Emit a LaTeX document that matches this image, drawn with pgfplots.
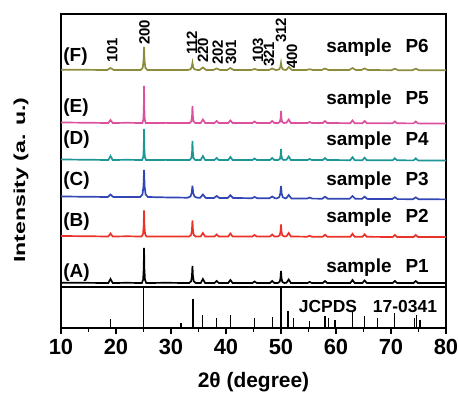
\documentclass[border=0pt]{standalone}
\usepackage{fontspec}
\setmainfont{Liberation Sans}
\usepackage{graphicx}
\usepackage{pgfplots}
\pgfplotsset{compat=1.18}
\definecolor{colF}{RGB}{140,140,60}
\definecolor{colE}{RGB}{220,80,160}
\definecolor{colD}{RGB}{30,150,150}
\definecolor{colC}{RGB}{50,70,180}
\definecolor{colB}{RGB}{235,50,40}
\newcommand{\lab}{\fontsize{19}{19}\selectfont\bfseries}
\newcommand{\hkl}{\fontsize{15}{15}\selectfont\bfseries}
\begin{document}
\begin{tikzpicture}
\path[use as bounding box] (0,0) rectangle (459bp,393bp);
\begin{axis}[
  at={(61bp,65bp)}, anchor=south west,
  width=385bp, height=314bp, scale only axis,
  xmin=10, xmax=80, ymin=0, ymax=314,
  xtick={10,20,...,80}, minor x tick num=1,
  ytick=\empty, xtick pos=left, tick align=outside,
  major tick length=6bp, minor tick length=3.5bp,
  every tick/.style={black, line width=1.3bp},
  axis line style={line width=1.6bp},
  /pgf/number format/assume math mode=true,
  xticklabel style={font=\fontsize{22}{22}\selectfont\bfseries, yshift=-2bp},
  xlabel={2θ (degree)},
  xlabel style={font=\fontsize{21}{21}\selectfont\bfseries, at={(axis description cs:0.5,-0.172)}, anchor=center},
  ylabel={\scalebox{1.45}[1]{Intensity (a. u.)}},
  ylabel style={font=\fontsize{16}{16}\selectfont\bfseries, at={(axis description cs:-0.104,0.471)}, anchor=center, rotate=0},
  clip=false,
]
% separator between sample panel and reference panel
\addplot[black, line width=1.3bp, mark=none] coordinates {(10,41) (80,41)};
% JCPDS 17-0341 reference lines
\addplot[ycomb, black, line width=1.3bp, mark=none] coordinates {
(19.0,9) (25.05,41) (31.8,5) (34.0,29) (35.7,13) (38.3,10) (40.8,13) (45.2,10)
(48.4,11) (50.0,41) (51.3,17) (52.3,10) (55.2,7) (58.0,12) (58.6,10) (59.8,8)
(63.0,17) (65.2,12) (67.6,10) (70.7,15) (74.3,10) (74.7,13) (75.3,8)};
% (A)
\addplot[black, line width=1.7bp, mark=none] coordinates {
(10,45.3) (14,45.2) (18.6,45) (19.0,49) (19.4,45) (22,45.2) (24.7,45) (24.94,48.5) (25.04,59) (25.1,80) (25.16,59) (25.26,48.5) (25.5,45) (29,45.2) (33.3,45) (33.66,46.7) (33.81,51.8) (33.9,62) (33.99,51.8) (34.14,46.7) (34.5,45) (35.4,45) (35.8,49) (36.2,45) (37.9,45) (38.3,47) (38.7,45) (40.4,45) (40.8,48) (41.2,45) (44.8,45) (45.2,46.5) (45.6,45) (48.0,45) (48.4,47) (48.8,45) (49.4,45) (49.76,46.2) (49.91,49.8) (50.0,57) (50.09,49.8) (50.24,46.2) (50.6,45) (51.0,45.3) (51.4,48.5) (51.8,45) (54.8,45) (55.2,46) (55.6,45) (57.6,45) (58.0,47) (58.4,45) (62.6,45) (63.0,48) (63.4,45) (64.8,45) (65.2,47.5) (65.6,45) (70.3,45) (70.7,47) (71.1,45) (74.1,45) (74.5,47) (74.9,45) (80,45)};
% (B)
\addplot[colB, line width=1.7bp, mark=none] coordinates {
(10,92) (14,91.8) (18.6,91.5) (19.0,94.5) (19.4,91.5) (22,91.7) (24.66,91.5) (24.92,94.1) (25.03,101.9) (25.1,117.5) (25.17,101.9) (25.28,94.1) (25.54,91.5) (29,91.6) (33.3,91.5) (33.66,93.1) (33.81,97.9) (33.9,107.5) (33.99,97.9) (34.14,93.1) (34.5,91.5) (35.4,91.5) (35.8,95) (36.2,91.5) (37.9,91.5) (38.3,93.5) (38.7,91.5) (40.4,91.5) (40.8,94.5) (41.2,91.5) (44.8,91.5) (45.2,93) (45.6,91.5) (48.0,91.5) (48.4,93.5) (48.8,91.5) (49.4,91.5) (49.76,92.7) (49.91,96.3) (50.0,103.5) (50.09,96.3) (50.24,92.7) (50.6,91.5) (51.0,91.8) (51.4,95) (51.8,91.5) (54.8,91.3) (55.2,92.3) (55.6,91.3) (57.6,91.3) (58.0,93.3) (58.4,91.3) (62.6,91.2) (63.0,94.2) (63.4,91.2) (64.8,91.2) (65.2,93.7) (65.6,91.2) (70.3,91) (70.7,93) (71.1,91) (74.1,91) (74.5,93) (74.9,91) (80,91)};
% (C)
\addplot[colC, line width=1.7bp, mark=none] coordinates {
(10,131.5) (14,131.3) (18.5,131) (19.0,133.5) (19.5,131) (22,131) (24.4,131) (24.82,133.7) (25.0,141.8) (25.1,158) (25.2,141.8) (25.38,133.7) (25.8,131) (29,130.6) (33.0,130.3) (33.54,131.5) (33.77,135.1) (33.9,142.3) (34.03,135.1) (34.26,131.5) (34.8,130.2) (35.3,130.2) (35.8,133.5) (36.3,130.1) (37.8,130) (38.3,132) (38.8,130) (40.3,130) (40.8,132.8) (41.3,130) (44.7,129.8) (45.2,131) (45.7,129.8) (47.9,129.7) (48.4,131.5) (48.9,129.7) (49.2,129.6) (49.68,130.85) (49.88,134.6) (50.0,142.1) (50.12,134.6) (50.32,130.85) (50.8,129.6) (51.0,130) (51.4,133) (51.9,129.5) (54.7,129.4) (55.2,130.4) (55.7,129.4) (57.5,129.3) (58.0,131.3) (58.5,129.3) (62.5,129.2) (63.0,132) (63.5,129.2) (64.7,129.1) (65.2,131.3) (65.7,129.1) (70.2,128.9) (70.7,130.8) (71.2,128.9) (74.0,128.8) (74.5,130.6) (75.0,128.8) (80,128.6)};
% (D)
\addplot[colD, line width=1.7bp, mark=none] coordinates {
(10,168.5) (14,168.3) (18.6,168) (19.0,172) (19.4,168) (22,168.2) (24.74,168) (24.96,171.1) (25.05,180.4) (25.1,199) (25.15,180.4) (25.24,171.1) (25.46,168) (29,168.1) (33.4,168) (33.7,169.9) (33.83,175.6) (33.9,187) (33.98,175.6) (34.1,169.9) (34.4,168) (35.4,168) (35.8,172) (36.2,168) (37.9,168) (38.3,170) (38.7,168) (40.4,168) (40.8,171) (41.2,168) (44.8,168) (45.2,169.5) (45.6,168) (48.0,168) (48.4,170) (48.8,168) (49.5,168) (49.8,169.1) (49.93,172.4) (50.0,179) (50.08,172.4) (50.2,169.1) (50.5,168) (51.0,168.3) (51.4,171.5) (51.8,168) (54.8,168) (55.2,169) (55.6,168) (57.6,168) (58.0,170) (58.4,168) (62.6,167.8) (63.0,170.8) (63.4,167.8) (64.8,167.8) (65.2,170.3) (65.6,167.8) (70.3,167.7) (70.7,169.7) (71.1,167.7) (74.1,167.6) (74.5,169.6) (74.9,167.6) (80,167.5)};
% (E)
\addplot[colE, line width=1.7bp, mark=none] coordinates {
(10,205.5) (14,205.3) (18.6,205) (19.0,208) (19.4,205) (22,205.2) (24.8,205) (24.98,208.7) (25.06,219.8) (25.1,242) (25.15,219.8) (25.22,208.7) (25.4,205) (29,205.1) (33.4,205) (33.7,206.7) (33.83,211.8) (33.9,222) (33.98,211.8) (34.1,206.7) (34.4,205) (35.4,205) (35.8,208.5) (36.2,205) (37.9,205) (38.3,207) (38.7,205) (40.4,205) (40.8,207.5) (41.2,205) (44.8,205) (45.2,206.5) (45.6,205) (48.0,205) (48.4,207) (48.8,205) (49.5,205) (49.8,206.2) (49.93,209.8) (50.0,217) (50.08,209.8) (50.2,206.2) (50.5,205) (51.0,205.3) (51.4,208.5) (51.8,205) (54.8,205) (55.2,206) (55.6,205) (57.6,205) (58.0,207) (58.4,205) (62.6,204.8) (63.0,207.5) (63.4,204.8) (64.8,204.8) (65.2,207) (65.6,204.8) (70.3,204.7) (70.7,206.5) (71.1,204.7) (74.1,204.6) (74.5,206.5) (74.9,204.6) (80,204.5)};
% (F)
\addplot[colF, line width=1.7bp, mark=none] coordinates {
(10,258.3) (14,258.2) (18.4,258) (19.0,260) (19.6,258) (22,258) (24.5,258) (24.86,260.3) (25.01,267.2) (25.1,281) (25.19,267.2) (25.34,260.3) (25.7,258) (29,258) (33.0,258) (33.54,258.7) (33.77,260.8) (33.9,265) (34.03,260.8) (34.26,258.7) (34.8,258) (35.2,258) (35.8,260.5) (36.4,258) (37.7,258) (38.3,259.5) (38.9,258) (40.2,258) (40.8,260) (41.4,258) (44.6,258) (45.2,259) (45.8,258) (47.8,258) (48.4,259.5) (49.0,258) (49.2,258) (49.68,258.7) (49.88,260.8) (50.0,265) (50.12,260.8) (50.32,258.7) (50.8,258) (51.0,258.3) (51.4,261) (52.0,258) (54.6,258) (55.2,258.8) (55.8,258) (57.4,258) (58.0,259.5) (58.6,258) (62.4,258) (63.0,260) (63.6,258) (64.6,258) (65.2,259.5) (65.8,258) (70.1,257.8) (70.7,259.3) (71.3,257.8) (73.9,257.8) (74.5,259.3) (75.1,257.8) (80,257.7)};
% sample letters
\node[anchor=west, font=\lab, inner sep=0pt] at (axis cs:10.4,271.5) {(F)};
\node[anchor=west, font=\lab, inner sep=0pt] at (axis cs:10.4,220.5) {(E)};
\node[anchor=west, font=\lab, inner sep=0pt] at (axis cs:10.4,188.5) {(D)};
\node[anchor=west, font=\lab, inner sep=0pt] at (axis cs:10.4,147.5) {(C)};
\node[anchor=west, font=\lab, inner sep=0pt] at (axis cs:10.4,106.5) {(B)};
\node[anchor=west, font=\lab, inner sep=0pt] at (axis cs:10.4,55.5) {(A)};
% sample names
\node[anchor=east, font=\lab, inner sep=0pt] at (axis cs:76.9,280.5) {sample\hspace{14bp}P6};
\node[anchor=east, font=\lab, inner sep=0pt] at (axis cs:76.9,228.5) {sample\hspace{14bp}P5};
\node[anchor=east, font=\lab, inner sep=0pt] at (axis cs:76.9,187.5) {sample\hspace{14bp}P4};
\node[anchor=east, font=\lab, inner sep=0pt] at (axis cs:76.9,147.5) {sample\hspace{14bp}P3};
\node[anchor=east, font=\lab, inner sep=0pt] at (axis cs:76.9,110.5) {sample\hspace{14bp}P2};
\node[anchor=east, font=\lab, inner sep=0pt] at (axis cs:76.9,60.5) {sample\hspace{14bp}P1};
\node[anchor=east, font=\fontsize{17.5}{17.5}\selectfont\bfseries, inner sep=0pt] at (axis cs:78.4,21.5) {JCPDS\hspace{16bp}17-0341};
% Miller indices
\node[rotate=90, anchor=west, font=\hkl, inner sep=0pt] at (axis cs:19.3,265) {101};
\node[rotate=90, anchor=west, font=\hkl, inner sep=0pt] at (axis cs:25.2,283) {200};
\node[rotate=90, anchor=west, font=\hkl, inner sep=0pt] at (axis cs:33.8,273) {112};
\node[rotate=90, anchor=west, font=\hkl, inner sep=0pt] at (axis cs:35.8,265) {220};
\node[rotate=90, anchor=west, font=\hkl, inner sep=0pt] at (axis cs:38.5,263) {202};
\node[rotate=90, anchor=west, font=\hkl, inner sep=0pt] at (axis cs:40.9,263) {301};
\node[rotate=90, anchor=west, font=\hkl, inner sep=0pt] at (axis cs:45.8,265) {103};
\node[rotate=90, anchor=west, font=\hkl, inner sep=0pt] at (axis cs:47.8,261) {321};
\node[rotate=90, anchor=west, font=\hkl, inner sep=0pt] at (axis cs:50.0,285) {312};
\node[rotate=90, anchor=west, font=\hkl, inner sep=0pt] at (axis cs:52.0,259) {400};
\end{axis}
\end{tikzpicture}
\end{document}
